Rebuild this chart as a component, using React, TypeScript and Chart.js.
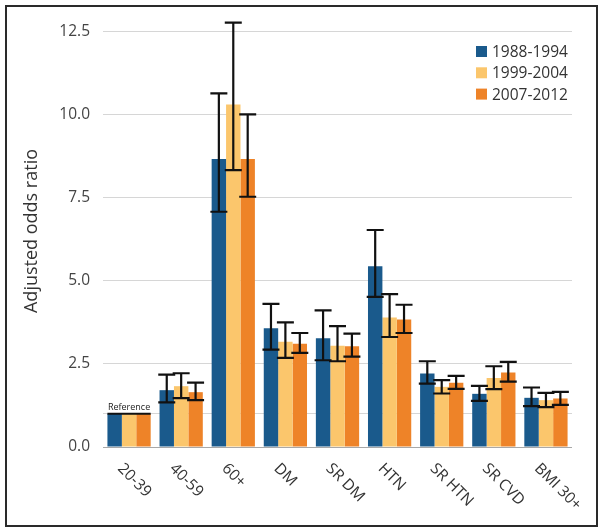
import { useEffect, useRef } from "react";
import Chart, { ChartConfiguration } from "chart.js/auto";

// categories and series
const categories = ["20-39", "40-59", "60+", "DM", "SR DM", "HTN", "SR HTN", "SR CVD", "BMI 30+"];
const seriesLabels = ["1988-1994", "1999-2004", "2007-2012"];
const seriesColors = ["#1A5A8C", "#FBC66C", "#EE8328"];

// adjusted odds ratios with 95% CI (first category is the reference group)
const or1988 = [1.0, 1.71, 8.67, 3.57, 3.27, 5.44, 2.21, 1.6, 1.48];
const lo1988 = [null, 1.34, 7.08, 2.93, 2.61, 4.52, 1.91, 1.39, 1.23];
const hi1988 = [null, 2.18, 10.64, 4.31, 4.11, 6.53, 2.58, 1.84, 1.79];
const or1999 = [1.0, 1.83, 10.31, 3.17, 3.05, 3.9, 1.81, 2.08, 1.41];
const lo1999 = [null, 1.47, 8.33, 2.68, 2.58, 3.31, 1.61, 1.74, 1.2];
const hi1999 = [null, 2.22, 12.77, 3.75, 3.64, 4.6, 2.01, 2.43, 1.63];
const or2007 = [1.0, 1.65, 8.67, 3.11, 3.03, 3.84, 1.93, 2.24, 1.46];
const lo2007 = [null, 1.41, 7.53, 2.83, 2.72, 3.43, 1.75, 1.97, 1.27];
const hi2007 = [null, 1.94, 10.01, 3.43, 3.41, 4.28, 2.14, 2.56, 1.66];

const yTicks = [0, 2.5, 5, 7.5, 10, 12.5];
const referenceValue = 1;
const referenceText = "Reference";
const yTitle = "Adjusted odds ratio";

const FONT = "'Open Sans', 'Noto Sans', sans-serif";

const lows = [lo1988, lo1999, lo2007];
const highs = [hi1988, hi1999, hi2007];

// error bars, reference marker, rotated x labels and legend
const extrasPlugin = {
  id: "extras",
  afterDatasetsDraw(chart: Chart) {
    const ctx = chart.ctx;
    const y = chart.scales.y;
    const x = chart.scales.x;

    // error bars
    ctx.save();
    ctx.strokeStyle = "#111";
    ctx.lineWidth = 2.2;
    chart.data.datasets.forEach((_ds, di) => {
      const meta = chart.getDatasetMeta(di);
      meta.data.forEach((bar: any, i: number) => {
        const lo = lows[di][i];
        const hi = highs[di][i];
        if (lo == null || hi == null) return;
        const yl = y.getPixelForValue(lo);
        const yh = y.getPixelForValue(hi);
        const cap = 8.5;
        ctx.beginPath();
        ctx.moveTo(bar.x, yl);
        ctx.lineTo(bar.x, yh);
        ctx.moveTo(bar.x - cap, yl);
        ctx.lineTo(bar.x + cap, yl);
        ctx.moveTo(bar.x - cap, yh);
        ctx.lineTo(bar.x + cap, yh);
        ctx.stroke();
      });
    });

    // reference group marker
    const first = chart.getDatasetMeta(0).data[0] as any;
    const last = chart.getDatasetMeta(chart.data.datasets.length - 1).data[0] as any;
    const left = first.x - first.width / 2;
    const right = last.x + last.width / 2;
    const yr = y.getPixelForValue(referenceValue);
    ctx.beginPath();
    ctx.moveTo(left, yr);
    ctx.lineTo(right, yr);
    ctx.stroke();
    ctx.fillStyle = "#222";
    ctx.font = `9px ${FONT}`;
    ctx.textAlign = "center";
    ctx.textBaseline = "alphabetic";
    ctx.fillText(referenceText, (left + right) / 2, yr - 4);

    // rotated category labels
    ctx.fillStyle = "#333";
    ctx.font = `15.5px ${FONT}`;
    ctx.textAlign = "left";
    ctx.textBaseline = "middle";
    categories.forEach((label, i) => {
      const cx = x.getPixelForTick(i);
      ctx.save();
      ctx.translate(cx - 9, chart.chartArea.bottom + 19);
      ctx.rotate(Math.PI / 4);
      ctx.fillText(label, 0, 0);
      ctx.restore();
    });

    // legend
    ctx.font = `15.5px ${FONT}`;
    ctx.textBaseline = "middle";
    const lx = chart.chartArea.right - 96;
    chart.data.datasets.forEach((ds: any, di) => {
      const ly = 51.5 + di * 21.3;
      ctx.fillStyle = ds.backgroundColor;
      ctx.fillRect(lx, ly - 5.5, 11, 11);
      ctx.fillStyle = "#333";
      ctx.fillText(ds.label, lx + 16, ly + 1);
    });
    ctx.restore();
  },
};

const App = () => {
  const chartRef = useRef<HTMLCanvasElement | null>(null);
  const chartInstance = useRef<Chart | null>(null);

  useEffect(() => {
    if (!chartRef.current) return;
    if (chartInstance.current) chartInstance.current.destroy();
    const ctx = chartRef.current.getContext("2d");
    if (!ctx) return;

    const values = [or1988, or1999, or2007];

    const config: ChartConfiguration = {
      type: "bar",
      data: {
        labels: categories,
        datasets: seriesLabels.map((label, i) => ({
          label,
          data: values[i],
          backgroundColor: seriesColors[i],
          borderWidth: 0,
          categoryPercentage: 0.83,
          barPercentage: 1,
        })),
      },
      options: {
        animation: false,
        responsive: false,
        layout: { padding: { left: 0, right: 30, top: 15, bottom: 0 } },
        plugins: {
          legend: { display: false },
          tooltip: { enabled: false },
        },
        scales: {
          x: {
            grid: { display: false },
            border: { display: false },
            ticks: { display: false },
            afterFit: (scale: any) => {
              scale.height = 84;
              scale.paddingLeft = 0;
              scale.paddingRight = 0;
            },
          },
          y: {
            min: 0,
            max: 13,
            border: { display: false },
            afterFit: (scale: any) => {
              scale.width = 103;
              scale.paddingTop = 0;
              scale.paddingBottom = 0;
            },
            afterBuildTicks: (scale: any) => {
              scale.ticks = [...yTicks, referenceValue]
                .sort((a, b) => a - b)
                .map((v) => ({ value: v }));
            },
            grid: {
              drawTicks: false,
              color: (c: any) => (c.tick && c.tick.value === 0 ? "#a8a8a8" : "#d6d6d6"),
              lineWidth: 1,
            },
            ticks: {
              padding: 13,
              color: "#444",
              font: { family: FONT, size: 15.5 },
              callback: (v: any) => (yTicks.includes(Number(v)) ? Number(v).toFixed(1) : ""),
            },
            title: {
              display: true,
              text: yTitle,
              color: "#333",
              font: { family: FONT, size: 18 },
              padding: { top: 21, bottom: 0 },
            },
          },
        },
      },
      plugins: [extrasPlugin],
    };

    chartInstance.current = new Chart(ctx, config);
    return () => {
      chartInstance.current?.destroy();
      chartInstance.current = null;
    };
  }, []);

  return (
    <div style={{ position: "fixed", left: 0, top: 0, width: 602, height: 531, background: "#fff" }}>
      <canvas ref={chartRef} width={602} height={531} />
      <div
        style={{
          position: "absolute",
          left: 5,
          top: 5,
          width: 589,
          height: 518,
          border: "2px solid #2a2a2a",
          pointerEvents: "none",
        }}
      />
    </div>
  );
};

export default App;
